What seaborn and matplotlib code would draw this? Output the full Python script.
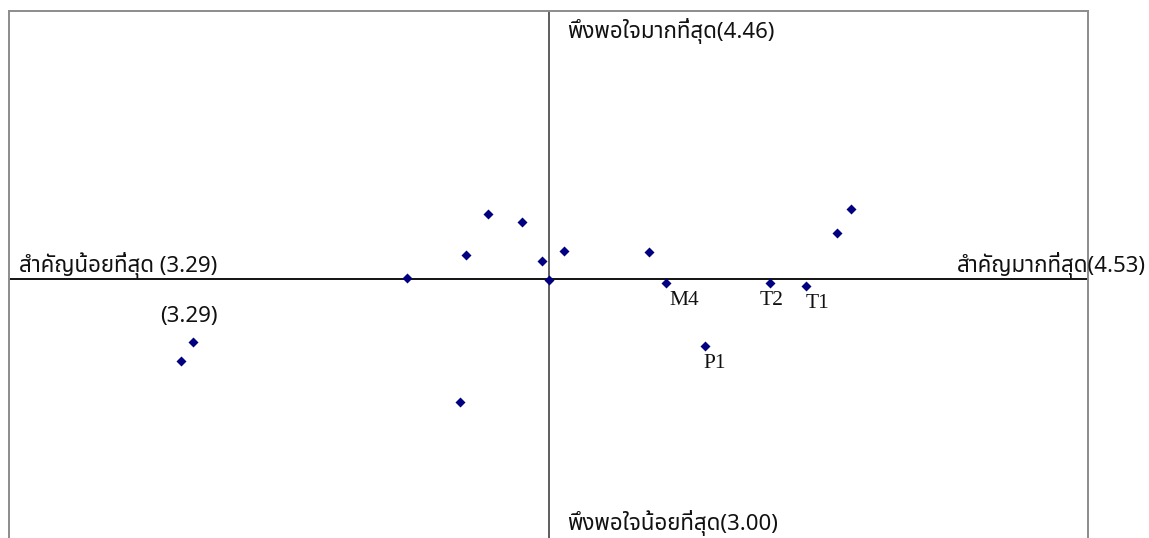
import matplotlib
matplotlib.use("Agg")
import matplotlib.pyplot as plt
from matplotlib import font_manager
from matplotlib.ft2font import FT2Font
import seaborn as sns
import pandas as pd

# ---- data ----
importance = [3.747, 3.841, 3.880, 3.815, 3.902, 3.928, 3.910, 4.025,
              4.045, 4.164, 4.206, 4.242, 4.258, 4.090, 3.501, 3.488, 3.808]
satisfaction = [3.731, 3.906, 3.883, 3.793, 3.777, 3.806, 3.726, 3.801,
                3.717, 3.717, 3.709, 3.853, 3.921, 3.545, 3.558, 3.506, 3.393]
point_labels = ["", "", "", "", "", "", "", "",
                "M4", "T2", "T1", "", "", "P1", "", "", ""]
x_min, x_max = 3.29, 4.53
y_min, y_max = 3.00, 4.46
x_mid, y_mid = 3.91, 3.73
top_text = "พึงพอใจมากที่สุด(4.46)"
bottom_text = "พึงพอใจน้อยที่สุด(3.00)"
left_text = "สำคัญน้อยที่สุด (3.29)"
right_text = "สำคัญมากที่สุด(4.53)"
extra_text = "(3.29)"

# ---- find a font with Thai glyphs ----
thai_font = None
cands = []
for fe in font_manager.fontManager.ttflist:
    try:
        cm = FT2Font(fe.fname).get_charmap()
        if 0x0E1E in cm and 0x0E36 in cm:
            cands.append(fe.name)
    except Exception:
        pass
pref = ["Tahoma", "Noto Sans Thai", "Noto Sans Thai UI", "Loma", "Garuda",
        "Sarabun", "TH Sarabun New", "Norasi", "Kinnari", "DejaVu Sans"]
for p in pref:
    if p in cands:
        thai_font = p
        break
if thai_font is None and cands:
    thai_font = cands[0]
fam = [thai_font, "DejaVu Sans"] if thai_font else ["DejaVu Sans"]

sns.set_theme(style="white")
plt.rcParams["font.family"] = fam

df = pd.DataFrame({"imp": importance, "sat": satisfaction, "lab": point_labels})

fig = plt.figure(figsize=(11.49, 5.38), dpi=100)
W, H = 1149, 538
ax = fig.add_axes([9 / W, 1 - 546 / H, (1088 - 9) / W, 535 / H])
ax.set_xlim(x_min, x_max)
ax.set_ylim(y_min, y_max)
for s in ax.spines.values():
    s.set_color("#8c8c8c")
    s.set_linewidth(1.4)
ax.set_xticks([])
ax.set_yticks([])
ax.set_xlabel("")
ax.set_ylabel("")

ax.axhline(y_mid, color="black", lw=1.3, zorder=1)
ax.axvline(x_mid, color="#505050", lw=1.3, zorder=1)

sns.scatterplot(data=df, x="imp", y="sat", marker="D", s=26, color="#000080",
                linewidth=0, ax=ax, zorder=3, legend=False)

offsets = {"M4": (3, -8), "T2": (-10, -8), "T1": (0, -8), "P1": (-2, -8)}
for xv, yv, lab in zip(importance, satisfaction, point_labels):
    if lab:
        dx, dy = offsets[lab]
        ax.annotate(lab, (xv, yv), xytext=(dx, dy), textcoords="offset pixels",
                    ha="left", va="top", fontsize=15.5,
                    family=["Liberation Serif", "DejaVu Serif"], color="#111111")

tk = dict(fontsize=16, color="#111111")
ax.text(567 / W, 1 - 38 / H, top_text, transform=fig.transFigure, ha="left",
        va="baseline", **tk)
ax.text(567 / W, 1 - 530 / H, bottom_text, transform=fig.transFigure, ha="left",
        va="baseline", **tk)
ax.text(19 / W, 1 - 272 / H, left_text, transform=fig.transFigure, ha="left",
        va="baseline", **tk)
ax.text(1146 / W, 1 - 272 / H, right_text, transform=fig.transFigure, ha="right",
        va="baseline", **tk)
ax.text(160 / W, 1 - 322 / H, extra_text, transform=fig.transFigure, ha="left",
        va="baseline", **tk)

fig.savefig("out.png", dpi=100)
